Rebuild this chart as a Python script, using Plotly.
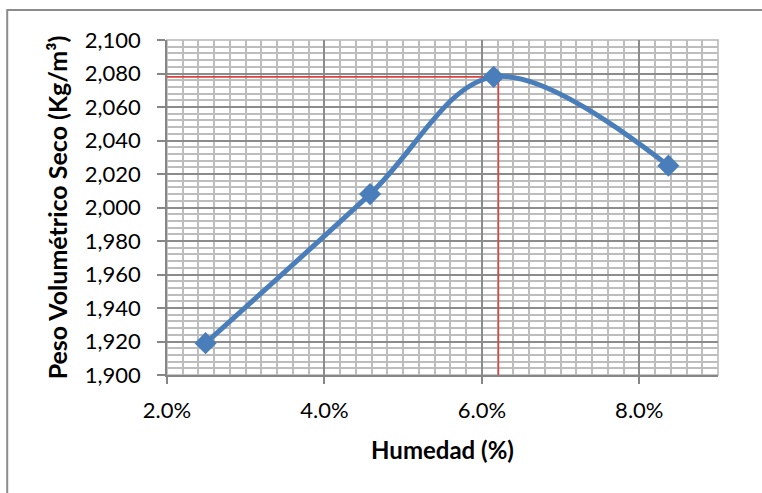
import plotly.graph_objects as go

# Data
humedad = [0.0249, 0.0458, 0.0615, 0.0837]          # Humedad (%)
peso_seco = [1919, 2008, 2078, 2025]               # Peso volumétrico seco (Kg/m³)
humedad_optima = 0.0621                            # red guide: optimum moisture
peso_maximo = 2078                                 # red guide: max dry density

x_range = [0.02, 0.09]
y_range = [1900, 2100]

FONT = "Lato, 'Open Sans', sans-serif"
BLUE = "#4a7ebb"
RED = "#d9443f"

fig = go.Figure()

# red guide lines (optimum)
fig.add_trace(go.Scatter(
    x=[x_range[0], humedad_optima, humedad_optima],
    y=[peso_maximo, peso_maximo, y_range[0]],
    mode="lines", line=dict(color=RED, width=1.6),
    hoverinfo="skip", showlegend=False, cliponaxis=False))

# compaction curve
fig.add_trace(go.Scatter(
    x=humedad, y=peso_seco, mode="lines+markers",
    line=dict(color=BLUE, width=5, shape="spline", smoothing=1.0),
    marker=dict(symbol="diamond", size=17, color=BLUE),
    showlegend=False))

# plot area border (top/right) and outer chart-area border
fig.add_shape(type="rect", xref="paper", yref="paper", x0=0, y0=0, x1=1, y1=1,
              line=dict(color="#b5b5b5", width=1.5), layer="below")
fig.add_shape(type="rect", xref="paper", yref="paper", x0=-0.29, y0=-0.5, x1=1.2, y1=1.0896,
              line=dict(color="#8c8c8c", width=2), layer="below")

fig.update_layout(
    width=762, height=493,
    margin=dict(l=167, r=44, t=40, b=118),
    paper_bgcolor="white", plot_bgcolor="white",
    font=dict(family=FONT, size=22, color="#000000"),
    xaxis=dict(
        range=x_range, tick0=0.02, dtick=0.02, tickformat=".1%",
        showgrid=True, gridcolor="#8c8c8c", gridwidth=1.5,
        minor=dict(tick0=0.02, dtick=0.002, showgrid=True, gridcolor="#bdbdbd", gridwidth=1.5),
        showline=True, linecolor="#868686", linewidth=1.5,
        ticks="outside", ticklen=7, tickcolor="#868686", tickwidth=1.5,
        ticklabelstandoff=8,
        tickfont=dict(family=FONT, size=22),
        zeroline=False,
        title=dict(text="<b>Humedad (%)</b>", font=dict(family=FONT, size=24), standoff=20),
    ),
    yaxis=dict(
        range=y_range, tick0=1900, dtick=20, tickformat=",d",
        showgrid=True, gridcolor="#8c8c8c", gridwidth=1.5,
        minor=dict(tick0=1900, dtick=4, showgrid=True, gridcolor="#bdbdbd", gridwidth=1.5),
        showline=True, linecolor="#868686", linewidth=1.5,
        ticks="outside", ticklen=8, tickcolor="#868686", tickwidth=1.5,
        ticklabelstandoff=12,
        tickfont=dict(family=FONT, size=22),
        zeroline=False,
        title=dict(text="<b>Peso Volumétrico Seco (Kg/m³)</b>", font=dict(family=FONT, size=25), standoff=10),
    ),
)

fig.write_html("out.html")
